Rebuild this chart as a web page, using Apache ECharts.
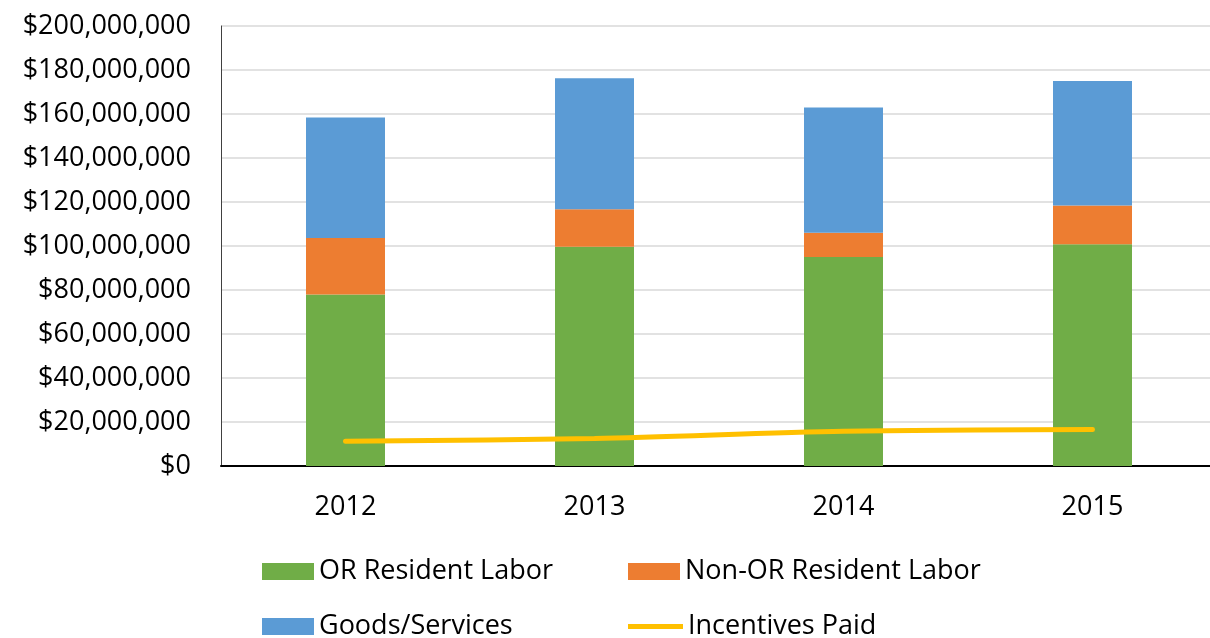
<!DOCTYPE html>
<html>
<head>
<meta charset="utf-8">
<script src="https://cdn.jsdelivr.net/npm/echarts@6/dist/echarts.min.js"></script>
<style>
html,body{margin:0;padding:0;background:#fff;overflow:hidden;}
#main{width:1230px;height:638px;}
</style>
</head>
<body>
<div id="main"></div>
<script>
const categories = ['2012', '2013', '2014', '2015'];
const orResidentLabor = [78000000, 99700000, 95000000, 100800000];
const nonOrResidentLabor = [25600000, 17000000, 11000000, 17600000];
const goodsServices = [54800000, 59500000, 56900000, 56600000];
const incentivesPaid = [11200000, 12500000, 15800000, 16600000];
const yTicks = [0, 20000000, 40000000, 60000000, 80000000, 100000000, 120000000, 140000000, 160000000, 180000000, 200000000];

const FONT = 'Open Sans';
const TXT = {fontFamily: FONT, fontSize: 27, color: '#000'};

function fmt(v){
  return '$' + Math.round(v).toString().replace(/\B(?=(\d{3})+(?!\d))/g, ',');
}

function leg(name, left, top, w, h){
  return {data: [name], left: left, top: top, padding: 0, itemWidth: w, itemHeight: h,
    textStyle: Object.assign({padding:[0,0,0,0]}, TXT), icon: 'rect'};
}

const chart = echarts.init(document.getElementById('main'));
chart.setOption({
  animation: false,
  backgroundColor: '#fff',
  grid: {left: 221, top: 26, width: 996, height: 440, containLabel: false},
  legend: [
    leg('OR Resident Labor', 262, 558, 52, 17),
    leg('Non-OR Resident Labor', 628, 558, 52, 17),
    leg('Goods/Services', 262, 613, 52, 17),
    leg('Incentives Paid', 628, 613, 55, 5)
  ],
  xAxis: {
    type: 'category',
    data: categories,
    boundaryGap: true,
    axisLine: {show: true, lineStyle: {color: '#000', width: 2}},
    axisTick: {show: false},
    axisLabel: Object.assign({margin: 28}, TXT),
    splitLine: {show: false}
  },
  yAxis: {
    type: 'value',
    min: 0, max: 200000000, interval: 20000000,
    axisLine: {show: true, lineStyle: {color: '#404040', width: 1}},
    axisTick: {show: false},
    axisLabel: Object.assign({margin: 30, formatter: function(v){ return yTicks.indexOf(v) >= 0 ? fmt(v) : ''; }}, TXT),
    splitLine: {show: true, lineStyle: {color: '#d9d9d9', width: 1.5}}
  },
  series: [
    {name: 'OR Resident Labor', type: 'bar', stack: 'total', data: orResidentLabor, barWidth: 79, itemStyle: {color: '#70AD47'}},
    {name: 'Non-OR Resident Labor', type: 'bar', stack: 'total', data: nonOrResidentLabor, barWidth: 79, itemStyle: {color: '#ED7D31'}},
    {name: 'Goods/Services', type: 'bar', stack: 'total', data: goodsServices, barWidth: 79, itemStyle: {color: '#5B9BD5'}},
    {name: 'Incentives Paid', type: 'line', data: incentivesPaid, smooth: 0.3, showSymbol: false, symbol: 'none', lineStyle: {color: '#FFC000', width: 5, cap: 'round'}, itemStyle: {color: '#FFC000'}, z: 5}
  ]
});
</script>
</body>
</html>
